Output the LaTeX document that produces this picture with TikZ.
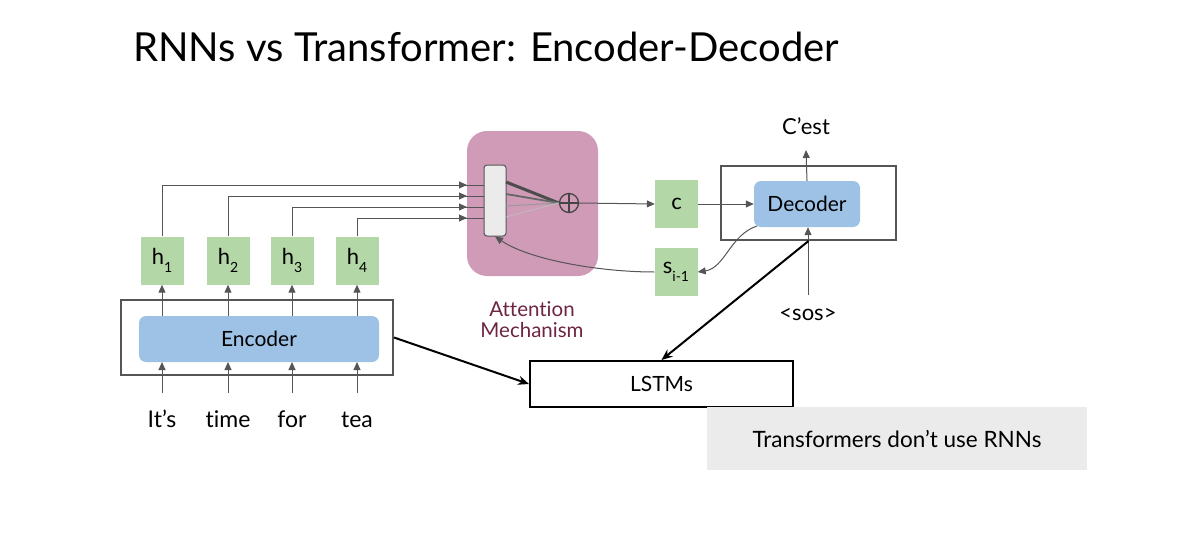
\documentclass[tikz,border=0pt]{standalone}
\usepackage{fontspec}
\setmainfont{Lato}[Ligatures={CommonOff}]
\usetikzlibrary{arrows.meta}
\definecolor{hgreen}{HTML}{B3D7A6}
\definecolor{dblue}{HTML}{9DC2E6}
\definecolor{apink}{HTML}{CF9BB7}
\definecolor{amaroon}{HTML}{6E2443}
\definecolor{lgray}{HTML}{EBEBEB}
\definecolor{lnc}{HTML}{555555}
\tikzset{
  hbox/.style={fill=hgreen, draw=none, minimum width=43pt, minimum height=48pt, inner sep=0pt, font=\fontsize{22}{24}\selectfont},
  bluebox/.style={fill=dblue, draw=none, rounded corners=7pt, inner sep=0pt, font=\fontsize{21}{24}\selectfont},
  outerbox/.style={draw=lnc, line width=2pt, inner sep=0pt},
  word/.style={font=\fontsize{23}{26}\selectfont, inner sep=0pt},
  garr/.style={draw=lnc, line width=1pt, -{Triangle[length=8pt,width=7pt]}},
  barr/.style={draw=black, line width=2pt, -{Stealth[length=11pt,width=9pt]}},
}
\newcommand{\lowsub}[1]{\raisebox{-0.35em}{\fontsize{14}{14}\selectfont #1}}
\begin{document}
\begin{tikzpicture}[x=1pt,y=-1pt]
\useasboundingbox (0,0) rectangle (1183,535);
% title
\node[anchor=base west, inner sep=0pt, font=\fontsize{40}{44}\selectfont] (title) at (133,62) {RNNs vs Transformer: Encoder-Decoder};

% encoder
\node[outerbox, minimum width=272pt, minimum height=75pt] (encout) at (257,337.5) {};
\node[bluebox, minimum width=240pt, minimum height=46pt] (enc) at (259,339) {Encoder};

% words
\foreach \n/\x/\t in {1/162/It’s, 2/228/time, 3/292/for, 4/357/tea}{
  \node[word, anchor=base] (w\n) at (\x,427) {\t};
  \coordinate (wt\n) at (\x,393);
  \coordinate (eb\n) at (\x,362);
  \coordinate (et\n) at (\x,316);
  \draw[garr] (wt\n) -- (eb\n);
}
% h boxes
\foreach \n/\x in {1/162,2/228,3/292,4/357}{
  \node[hbox] (h\n) at (\x,260.5) {h\lowsub{\n}};
  \draw[garr] (et\n) -- (h\n.south);
}

% attention
\node[fill=apink, rounded corners=20pt, minimum width=131pt, minimum height=145pt, inner sep=0pt] (att) at (532.5,203.5) {};
\foreach \n/\y in {1/185,2/196,3/207,4/218}{
  \coordinate (in\n) at (484,\y);
}
\draw[line width=1pt, draw=lnc] (h1.north) |- (in1);
\draw[line width=1pt, draw=lnc] (h2.north) |- (in2);
\draw[line width=1pt, draw=lnc] (h3.north) |- (in3);
\draw[line width=1pt, draw=lnc] (h4.north) |- (in4);
\foreach \n/\y in {1/185,2/196,3/207,4/218}{
  \coordinate (ah\n) at (458,\y);
  \coordinate (ah\n e) at (467,\y);
  \draw[garr] (ah\n) -- (ah\n e);
}
\node[fill=white!92!black, draw=lnc, line width=1pt, rounded corners=3pt, minimum width=22pt, minimum height=71pt, inner sep=0pt] (bar) at (495,200.5) {};
\node[circle, draw=lnc!80!black, line width=1.3pt, minimum size=19pt, inner sep=0pt] (plus) at (569,203) {};
\draw[line width=1.3pt, draw=lnc!80!black] (plus.north) -- (plus.south) (plus.west) -- (plus.east);
\draw[line width=3pt, draw=black!70] (506,182) -- (plus.west);
\draw[line width=1.8pt, draw=black!60] (506,194) -- (plus.west);
\draw[line width=1pt, draw=black!40] (506,206) -- (plus.west);
\draw[line width=0.7pt, draw=black!25] (506,217) -- (plus.west);
\node[font=\fontsize{20.5}{23}\selectfont, text=amaroon, align=center, inner sep=0pt] (attlab) at (532,320) {Attention\\[-2pt]Mechanism};

% c box
\node[hbox, minimum height=48pt] (c) at (676.5,204) {c};
\draw[garr] (plus.east) -- (c.west);

% decoder
\node[outerbox, minimum width=175pt, minimum height=74pt] (decout) at (808.5,203) {};
\node[bluebox, minimum width=106pt, minimum height=46pt] (dec) at (807,204) {Decoder};
\draw[garr] (c.east) -- (dec.west);
\node[word, font=\fontsize{22}{24}\selectfont] (cest) at (806,126) {C’est};
\coordinate (cestb) at (806,150);
\draw[garr] (dec.north) -- (cestb);
\node[word, font=\fontsize{22}{24}\selectfont] (sos) at (808,314) {<sos>};
\coordinate (sost) at (808,295);
\draw[garr] (sost) -- (dec.south -| sost);

% s box
\node[hbox] (s) at (676,272) {s\lowsub{i-1}};
\draw[garr] (757,226) .. controls (730,235) and (725,268) .. (s.east);
\draw[garr] (s.west) .. controls (600,272) and (530,260) .. (bar.south);

% LSTMs
\node[draw=black, line width=2pt, minimum width=263pt, minimum height=46pt, inner sep=0pt, font=\fontsize{21}{24}\selectfont] (lstm) at (661.5,384) {LSTMs};
\draw[barr] (encout.east) -- (lstm.west);
\draw[barr] (decout.south) -- (lstm.north);

% note
\node[fill=lgray, minimum width=380pt, minimum height=63pt, inner sep=0pt, font=\fontsize{22.5}{26}\selectfont] (note) at (897,438.5) {Transformers don’t use RNNs};
\end{tikzpicture}
\end{document}
